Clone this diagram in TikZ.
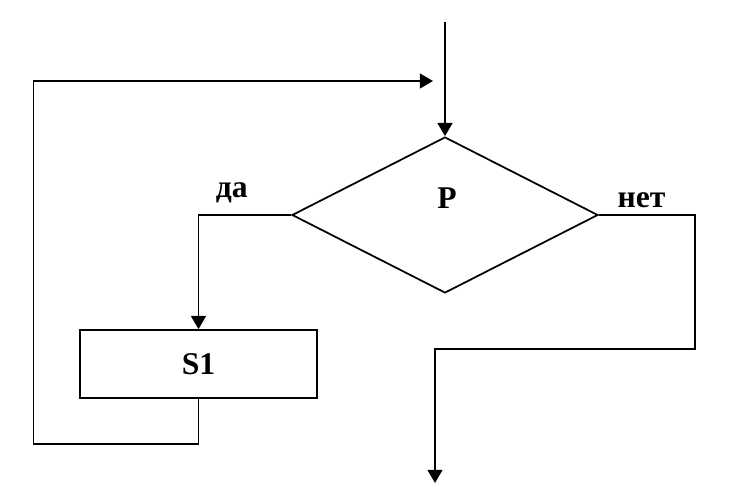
\documentclass[tikz,border=0pt]{standalone}
\usepackage{fontspec}
\setmainfont{Liberation Serif}
\usetikzlibrary{shapes.geometric, arrows.meta}
\tikzstyle{process} = [rectangle, minimum width=4.74cm, minimum height=1.36cm, text centered, draw=black, line width=1pt]
\tikzstyle{decision} = [diamond, minimum width=6.12cm, minimum height=3.12cm, inner sep=0pt, draw=black, line width=1pt]
\tikzstyle{arrow} = [line width=1pt,->,>={Triangle[length=7.5pt,width=8.5pt]}]

\begin{document}
\begin{tikzpicture}[x=0.02cm, y=-0.02cm, font=\fontsize{18}{21}\selectfont\bfseries]
    \useasboundingbox (0,0) rectangle (730,503);

    \coordinate (in) at (445,22);
    \node (cond) [decision] at (445,215) {};
    \node (plabel) at (447,198) {P};
    \node (s1) [process] at (198.5,364) {S1};
    \coordinate (back) at (433,81);
    \coordinate (turn) at (435,349);
    \coordinate (out) at (435,483);

    \draw [arrow] (in) -- (cond.north);
    \draw [arrow] (cond.west) -| node[pos=0.32, above=3pt] {да} (s1.north);
    \draw [arrow] (s1.south) -- ++(0,45) -- ++(-165,0) |- (back);
    \draw [arrow] (cond.east) -- node[above=0pt, xshift=-3pt] {нет} ++(96,0) |- (turn) -- (out);

\end{tikzpicture}
\end{document}
